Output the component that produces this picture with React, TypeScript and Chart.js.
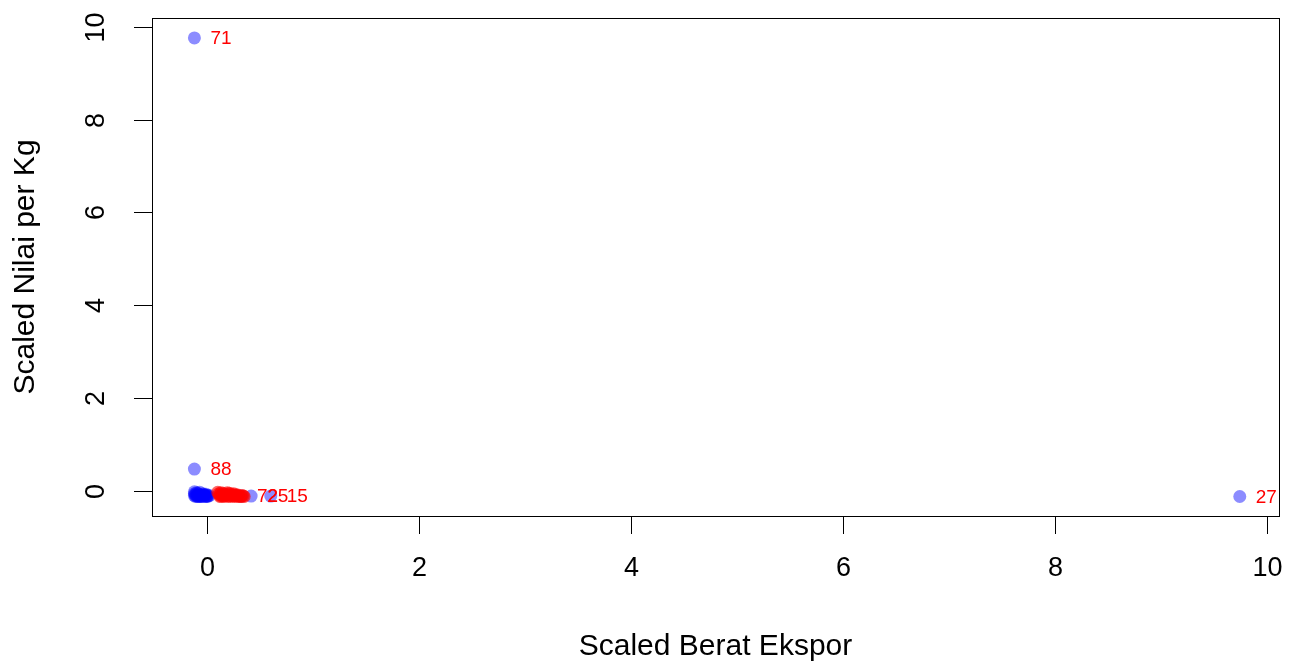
import React, { useEffect, useRef } from "react";
import { Chart, registerables } from "chart.js";

Chart.register(...registerables);

// Cluster 1 (blue) — includes labelled outliers
const blueX = [-0.12, -0.12, 9.74, 0.32, 0.415, 0.60,
  -0.12, -0.11, -0.10, -0.09, -0.08, -0.07, -0.06, -0.05, -0.04, -0.03,
  -0.02, -0.01, 0.0, -0.11, -0.09, -0.06, -0.03, 0.01, -0.12, -0.10,
  -0.08, -0.05, -0.02, 0.0, -0.07, -0.04, -0.01, -0.12, -0.09, 0.02];
const blueY = [9.76, 0.47, -0.12, -0.11, -0.11, -0.11,
  -0.02, -0.08, -0.11, -0.05, -0.12, -0.03, -0.09, -0.11, -0.06, -0.10,
  -0.12, -0.07, -0.10, -0.12, -0.10, -0.12, -0.08, -0.11, -0.10, -0.04,
  -0.07, -0.12, -0.09, -0.12, -0.11, -0.09, -0.12, -0.06, -0.12, -0.10];
const blueLabels = ["71", "88", "27", "72", "25", "15"];

// Cluster 2 (red)
const redX = [0.10, 0.12, 0.13, 0.15, 0.16, 0.18, 0.19, 0.21, 0.22, 0.24, 0.25,
  0.27, 0.28, 0.30, 0.32, 0.34, 0.12, 0.17, 0.20, 0.26, 0.11, 0.14,
  0.13, 0.16, 0.19, 0.23, 0.29, 0.31, 0.33, 0.35, 0.21, 0.25, 0.15, 0.27];
const redY = [-0.03, -0.08, -0.11, -0.05, -0.12, -0.09, -0.04, -0.11, -0.07, -0.12, -0.09,
  -0.10, -0.12, -0.11, -0.12, -0.11, -0.12, -0.10, -0.12, -0.11, -0.06, -0.09,
  -0.04, -0.07, -0.08, -0.10, -0.09, -0.12, -0.10, -0.12, -0.05, -0.06, -0.11, -0.08];

const xTicks = [0, 2, 4, 6, 8, 10];
const yTicks = [0, 2, 4, 6, 8, 10];
const xTitle = "Scaled Berat Ekspor";
const yTitle = "Scaled Nilai per Kg";

const FONT = "'Liberation Sans', Arial, sans-serif";

const rAxesPlugin = {
  id: "rAxes",
  afterDatasetsDraw(chart: any) {
    const ctx = chart.ctx;
    const { left, right, top, bottom } = chart.chartArea;
    const xs = chart.scales.x;
    const ys = chart.scales.y;
    ctx.save();
    // point labels
    ctx.fillStyle = "#ff0000";
    ctx.font = `19px ${FONT}`;
    ctx.textBaseline = "middle";
    ctx.textAlign = "left";
    blueLabels.forEach((lab, i) => {
      if (!lab) return;
      const px = xs.getPixelForValue(blueX[i]);
      const py = ys.getPixelForValue(blueY[i]);
      ctx.fillText(lab, px + 16, py + 1);
    });
    // box
    ctx.strokeStyle = "#000";
    ctx.lineWidth = 1;
    ctx.strokeRect(Math.round(left) + 0.5, Math.round(top) + 0.5, Math.round(right - left), Math.round(bottom - top));
    ctx.fillStyle = "#000";
    ctx.font = `27px ${FONT}`;
    // x ticks
    ctx.textAlign = "center";
    ctx.textBaseline = "middle";
    xTicks.forEach((v) => {
      const px = Math.round(xs.getPixelForValue(v)) + 0.5;
      ctx.beginPath();
      ctx.moveTo(px, bottom);
      ctx.lineTo(px, bottom + 18);
      ctx.stroke();
      ctx.fillText(String(v), px, bottom + 53);
    });
    // y ticks
    yTicks.forEach((v) => {
      const py = Math.round(ys.getPixelForValue(v)) + 0.5;
      ctx.beginPath();
      ctx.moveTo(left, py);
      ctx.lineTo(left - 18, py);
      ctx.stroke();
      ctx.save();
      ctx.translate(left - 55, py);
      ctx.rotate(-Math.PI / 2);
      ctx.fillText(String(v), 0, 0);
      ctx.restore();
    });
    // titles
    ctx.font = `30px ${FONT}`;
    ctx.fillText(xTitle, (left + right) / 2, 647);
    ctx.save();
    ctx.translate(26, (top + bottom) / 2);
    ctx.rotate(-Math.PI / 2);
    ctx.fillText(yTitle, 0, 0);
    ctx.restore();
    ctx.restore();
  },
};

export default function App() {
  const ref = useRef<HTMLCanvasElement | null>(null);
  useEffect(() => {
    document.body.style.margin = "0";
    const canvas = ref.current!;
    const chart = new Chart(canvas, {
      type: "scatter",
      data: {
        datasets: [
          {
            label: "Cluster 2",
            data: redX.map((x, i) => ({ x, y: redY[i] })),
            backgroundColor: "rgba(255,0,0,0.6)",
            borderWidth: 0,
            pointRadius: 6.5,
          },
          {
            label: "Cluster 1",
            data: blueX.map((x, i) => ({ x, y: blueY[i] })),
            backgroundColor: "rgba(0,0,255,0.45)",
            borderWidth: 0,
            pointRadius: 6.5,
          },
        ],
      },
      options: {
        animation: false,
        responsive: false,
        maintainAspectRatio: false,
        layout: { padding: { left: 152, right: 10, top: 18, bottom: 150 } },
        plugins: { legend: { display: false }, tooltip: { enabled: false } },
        scales: {
          x: { type: "linear", min: -0.52, max: 10.11, display: false },
          y: { type: "linear", min: -0.54, max: 10.19, display: false },
        },
      },
      plugins: [rAxesPlugin],
    });
    return () => chart.destroy();
  }, []);
  return (
    <div style={{ position: "absolute", left: 0, top: 0, width: 1289, height: 666, background: "#fff" }}>
      <canvas ref={ref} width={1289} height={666} style={{ width: 1289, height: 666 }} />
    </div>
  );
}
